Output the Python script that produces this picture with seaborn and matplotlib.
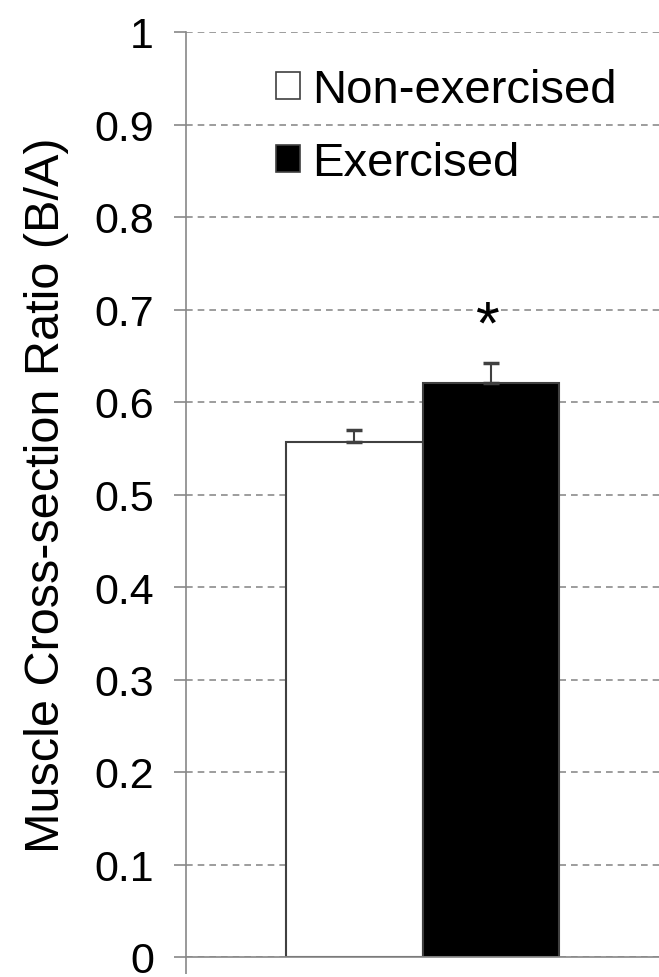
import pandas as pd
import seaborn as sns
import matplotlib.pyplot as plt

groups = ["Non-exercised", "Exercised"]
ratio = [0.557, 0.621]
sem = [0.013, 0.021]
star_y = 0.695

sns.set_style("white")
plt.rcParams['font.family'] = ['Liberation Sans', 'DejaVu Sans']
plt.rcParams['text.color'] = 'black'
plt.rcParams['axes.labelcolor'] = 'black'
plt.rcParams['ytick.labelcolor'] = 'black'

df = pd.DataFrame({"grp": [""] * 2, "group": groups, "ratio": ratio})

fig = plt.figure(figsize=(6.59, 9.78), dpi=100)
ax = fig.add_axes([186 / 659, 1 - 958 / 978, 1 - 186 / 659, 925 / 978])

sns.barplot(data=df, x="grp", y="ratio", hue="group", hue_order=groups,
            palette=["white", "black"], edgecolor="#404040", linewidth=1.5,
            width=0.577, errorbar=None, ax=ax, legend=True)

# one-sided error bars (upper only)
for bar, e in zip(ax.patches[:2], sem):
    cx = bar.get_x() + bar.get_width() / 2
    ax.errorbar(cx, bar.get_height(), yerr=[[0], [e]], fmt="none",
                ecolor="#404040", elinewidth=1.5, capsize=6, capthick=2.5)

black = ax.patches[1]
ax.annotate("*", (black.get_x() + black.get_width() / 2 - 0.005, star_y),
            xytext=(0, -9), textcoords="offset points",
            fontsize=44, ha="center", va="center", color="black")

ax.set_ylim(0, 1)
ax.set_xlim(-0.5, 0.5)
ax.set_yticks([i / 10 for i in range(11)])
ax.set_yticklabels(["0", "0.1", "0.2", "0.3", "0.4", "0.5", "0.6", "0.7", "0.8", "0.9", "1"])
ax.set_xticks([-0.5])
ax.set_xticklabels([""])
ax.set_xlabel("")
ax.set_ylabel("Muscle Cross-section Ratio (B/A)", fontsize=35, labelpad=18)

ax.yaxis.grid(True, linestyle=(0, (4, 3)), color="#8c8c8c", linewidth=1.2)
ax.set_axisbelow(True)
ax.tick_params(axis="y", labelsize=31, length=9, width=1.2, color="#888888",
               direction="out", pad=14, left=True)
ax.tick_params(axis="x", length=12, width=1.2, color="#888888", direction="out", bottom=True)

for s in ["top", "right"]:
    ax.spines[s].set_visible(False)
for s in ["left", "bottom"]:
    ax.spines[s].set_color("#888888")
    ax.spines[s].set_linewidth(1.2)

leg = ax.legend(loc="upper left", bbox_to_anchor=(0.19, 0.961), frameon=False,
                fontsize=34, handlelength=0.52, handleheight=0.52,
                handletextpad=0.25, labelspacing=0.62, borderpad=0, borderaxespad=0)
for h in leg.legend_handles:
    h.set_edgecolor("#404040")
    h.set_linewidth(1.2)

fig.savefig("out.png", dpi=100)
